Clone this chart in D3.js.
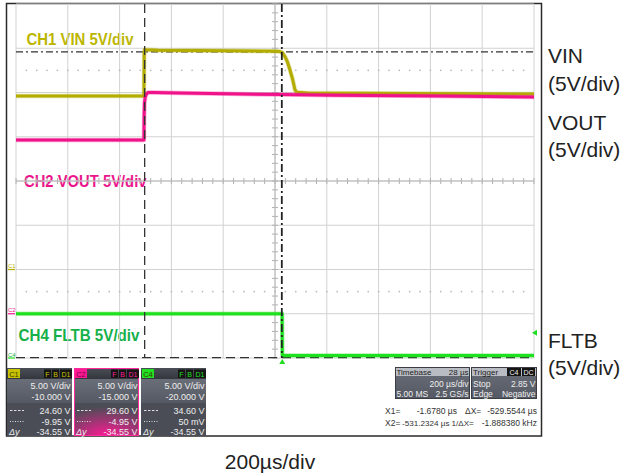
<!DOCTYPE html>
<html><head><meta charset="utf-8">
<script src="https://cdn.jsdelivr.net/npm/d3@7"></script>
<style>body{margin:0;background:#fff}svg{display:block}</style>
</head><body><svg id="c" width="624" height="475"></svg>
<script>
// ---------- data ----------
const channelNames = ["C1", "C2", "C4"];
const channelLabels = ["CH1 VIN 5V/div", "CH2 VOUT 5V/div", "CH4 FLTB 5V/div"];
const sideLabels = ["VIN", "VOUT", "FLTB"];
const sideUnits = ["(5V/div)", "(5V/div)", "(5V/div)"];
const voltsPerDiv = [5, 5, 5];
const channelOffsets = [-10, -15, -20];
const timePerDiv = 200;           // µs/div
const timeCenter = -28;           // µs at screen centre
const timeAxisLabel = "200µs/div";

const vinTime  = [-1028, -534, -533.5, -533, -531, -525, -480, -200, -20, -9, 0, 10.6, 20, 29.9, 40, 49.2, 57, 100, 500, 972];
const vinVolts = [19.60, 19.60, 22.0, 24.5, 24.85, 24.82, 24.78, 24.72, 24.66, 24.62, 24.5, 24.05, 23.45, 22.54, 21.5, 20.28, 20.02, 19.93, 19.88, 19.83];
const voutTime  = [-1028, -534, -533.5, -532, -529, -524, -518, -495, -400, -1, 200, 600, 972];
const voutVolts = [19.63, 19.63, 21.9, 23.8, 24.5, 24.85, 25.0, 25.0, 24.94, 24.77, 24.70, 24.6, 24.5];
const fltbTime  = [-1028, -0.5, 0.5, 972];
const fltbVolts = [5.0, 5.0, 0.28, 0.28];

const cursorXTimes = [-1.678, -531.2324];
const cursorYVolts = [24.60, -9.95];   // on C1
const triggerLevel = 2.85;             // on C4

const panelRows = [
  ["5.00 V/div", "-10.000 V", "24.60 V", "-9.95 V", "-34.55 V"],
  ["5.00 V/div", "-15.000 V", "29.60 V", "-4.95 V", "-34.55 V"],
  ["5.00 V/div", "-20.000 V", "34.60 V", "50 mV", "-34.55 V"]
];
const timebaseTexts = ["Timebase", "28 µs", "200 µs/div", "5.00 MS", "2.5 GS/s"];
const triggerTexts = ["Trigger", "C4", "DC", "Stop", "2.85 V", "Edge", "Negative"];
const measureRows = [
  ["X1=", "-1.6780 µs", "ΔX=", "-529.5544 µs"],
  ["X2=", "-531.2324 µs", "1/ΔX=", "-1.888380 kHz"]
];

// ---------- styles ----------
const traceColors = ["#b3ad00", "#f0128a", "#1fe01f"];
const labelColors = ["#bcb600", "#ec168c", "#16b04a"];
const boxColors = ["#c9c200", "#ff1a95", "#22e022"];
const sans = "'Liberation Sans',Arial,Helvetica,sans-serif";

const svg = d3.select("#c");
const defs = svg.append("defs");

function txt(par, x, y, str, size, fill, anchor = "start", style = null) {
  const t = par.append("text").attr("x", x).attr("y", y).attr("font-family", sans)
    .attr("font-size", size).attr("fill", fill).attr("text-anchor", anchor).text(str);
  if (style) t.attr("font-style", style);
  return t;
}

const xs = d3.scaleLinear()
  .domain([timeCenter - 5 * timePerDiv, timeCenter + 5 * timePerDiv])
  .range([16, 534]);
const yDiv = d3.scaleLinear().domain([-4, 4]).range([358, 4]);
const yCh = i => v => yDiv((v + channelOffsets[i]) / voltsPerDiv[i]);

// ---------- frame ----------
svg.append("rect").attr("x", 6.5).attr("y", 3.5).attr("width", 535).attr("height", 432.5)
  .attr("fill", "#fff").attr("stroke", "#2a2a2a").attr("stroke-width", 1.5);

// ---------- channel labels (below grid) ----------
const labelPos = [[26.5, 45, 107], [24, 186.5, 122.5], [18.5, 340.5, 121]];
channelLabels.forEach((t, i) => {
  svg.append("text").attr("x", labelPos[i][0]).attr("y", labelPos[i][1])
    .attr("font-family", sans).attr("font-weight", "bold").attr("font-size", 17)
    .attr("textLength", labelPos[i][2]).attr("lengthAdjust", "spacingAndGlyphs")
    .attr("fill", labelColors[i]).text(t);
});

// ---------- grid ----------
const g = svg.append("g");
const vLines = d3.range(0, 11).map(k => xs.domain()[0] + k * timePerDiv);
const hLines = d3.range(-4, 5);
g.selectAll(".vl").data(vLines).join("line")
  .attr("x1", d => xs(d)).attr("x2", d => xs(d)).attr("y1", yDiv(4)).attr("y2", yDiv(-4))
  .attr("stroke", "#d2d2d2").attr("stroke-width", 1);
g.selectAll(".hl").data(hLines).join("line")
  .attr("y1", d => yDiv(d)).attr("y2", d => yDiv(d)).attr("x1", xs.range()[0]).attr("x2", xs.range()[1])
  .attr("stroke", "#d2d2d2").attr("stroke-width", 1);
// dotted lines at +-2.5 div
const minorT = d3.range(0, 51).map(k => xs.domain()[0] + k * timePerDiv / 5);
[2.5, -2.5].forEach(dv => {
  g.selectAll(null).data(minorT.slice(1, -1)).join("rect")
    .attr("x", d => xs(d) - 0.75).attr("y", yDiv(dv) - 0.75).attr("width", 1.5).attr("height", 1.5)
    .attr("fill", "#b8b8b8");
});
// centre axes ticks
const cx = xs(timeCenter), cy = yDiv(0);
g.selectAll(null).data(minorT).join("line")
  .attr("x1", d => xs(d)).attr("x2", d => xs(d)).attr("y1", cy - 3).attr("y2", cy + 3)
  .attr("stroke", "#b0b0b0");
g.selectAll(null).data(d3.range(-4, 4.001, 0.2)).join("line")
  .attr("y1", d => yDiv(d)).attr("y2", d => yDiv(d)).attr("x1", cx - 3).attr("x2", cx + 3)
  .attr("stroke", "#b0b0b0");
g.append("line").attr("x1", cx).attr("x2", cx).attr("y1", 4).attr("y2", 358).attr("stroke", "#b8b8b8");
g.append("line").attr("x1", 16).attr("x2", 534).attr("y1", cy).attr("y2", cy).attr("stroke", "#b8b8b8");

// ---------- cursors ----------
svg.append("line").attr("x1", 16).attr("x2", 534)
  .attr("y1", yCh(0)(cursorYVolts[0])).attr("y2", yCh(0)(cursorYVolts[0]))
  .attr("stroke", "#333").attr("stroke-width", 1.3).attr("stroke-dasharray", "7,3,2,3");
svg.append("line").attr("x1", 16).attr("x2", 534)
  .attr("y1", yCh(0)(cursorYVolts[1])).attr("y2", yCh(0)(cursorYVolts[1]))
  .attr("stroke", "#333").attr("stroke-width", 1.3).attr("stroke-dasharray", "9,5");

// ---------- traces ----------
const series = [[vinTime, vinVolts, 0], [fltbTime, fltbVolts, 2], [voutTime, voutVolts, 1]];
series.forEach(([T, V, i]) => {
  const pts = T.map((t, k) => [t, V[k]]);
  const line = d3.line().x(d => xs(d[0])).y(d => yCh(i)(d[1]));
  svg.append("path").attr("d", line(pts)).attr("fill", "none")
    .attr("stroke", traceColors[i]).attr("stroke-width", 4.5).attr("stroke-opacity", 0.35)
    .attr("stroke-linejoin", "round");
  svg.append("path").attr("d", line(pts)).attr("fill", "none")
    .attr("stroke", traceColors[i]).attr("stroke-width", 3).attr("stroke-linejoin", "round");
});

// vertical cursors on top
svg.append("line").attr("x1", xs(cursorXTimes[0])).attr("x2", xs(cursorXTimes[0])).attr("y1", 4).attr("y2", 358)
  .attr("stroke", "#222").attr("stroke-width", 1.8).attr("stroke-dasharray", "8,3,2,3");
svg.append("line").attr("x1", xs(cursorXTimes[1])).attr("x2", xs(cursorXTimes[1])).attr("y1", 4).attr("y2", 358)
  .attr("stroke", "#333").attr("stroke-width", 1.3).attr("stroke-dasharray", "9,5");

// ---------- ground markers ----------
channelNames.forEach((n, i) => {
  const y0 = yCh(i)(0);
  svg.append("line").attr("x1", 8).attr("x2", 15).attr("y1", y0).attr("y2", y0)
    .attr("stroke", traceColors[i]).attr("stroke-width", 1.2);
  txt(svg, 8, y0 - 1.5, n, 6, labelColors[i]);
});
// trigger markers
const tx = xs(0);
svg.append("path").attr("d", `M${tx - 3},${364} L${tx + 3},${364} L${tx},${359} Z`).attr("fill", "#22dd22");
const ty = yCh(2)(triggerLevel);
svg.append("path").attr("d", `M${537},${ty - 3} L${537},${ty + 3} L${532},${ty} Z`).attr("fill", "#22dd22");

// ---------- right labels ----------
const sideY = [[63, 91], [130, 157], [348, 375]];
sideLabels.forEach((t, i) => {
  txt(svg, 548, sideY[i][0], t, 21, "#222");
  txt(svg, 548, sideY[i][1], sideUnits[i], 21, "#222");
});
txt(svg, 270, 469, timeAxisLabel, 21, "#222", "middle");

// ---------- channel panels ----------
const gradTop = defs.append("linearGradient").attr("id", "gTop").attr("x1", 0).attr("x2", 0).attr("y1", 0).attr("y2", 1);
gradTop.append("stop").attr("offset", 0).attr("stop-color", "#6a6e78");
gradTop.append("stop").attr("offset", 1).attr("stop-color", "#555963");
const gradHead = defs.append("linearGradient").attr("id", "gHead").attr("x1", 0).attr("x2", 0).attr("y1", 0).attr("y2", 1);
gradHead.append("stop").attr("offset", 0).attr("stop-color", "#4a4e56");
gradHead.append("stop").attr("offset", 1).attr("stop-color", "#33363c");
const pinkGlow = defs.append("radialGradient").attr("id", "pinkGlow").attr("cx", 0.5).attr("cy", 1).attr("r", 0.9);
pinkGlow.append("stop").attr("offset", 0).attr("stop-color", "#ff1a95").attr("stop-opacity", 1);
pinkGlow.append("stop").attr("offset", 1).attr("stop-color", "#ff1a95").attr("stop-opacity", 0);

const panelX = [7, 74, 141];
const light = "#eeeeee", dark = "#222";
panelRows.forEach((rows, i) => {
  const x0 = panelX[i], w = 65, p = svg.append("g");
  p.append("rect").attr("x", x0).attr("y", 368).attr("width", w).attr("height", 68).attr("fill", "#4a4d55");
  p.append("rect").attr("x", x0).attr("y", 368).attr("width", w).attr("height", 11).attr("fill", "url(#gHead)");
  p.append("rect").attr("x", x0).attr("y", 379).attr("width", w).attr("height", 24).attr("fill", "url(#gTop)");
  if (i === 1) {
    p.append("rect").attr("x", x0).attr("y", 403).attr("width", w).attr("height", 33).attr("fill", "url(#pinkGlow)");
    p.append("rect").attr("x", x0 + 0.5).attr("y", 368.5).attr("width", w - 1).attr("height", 67)
      .attr("fill", "none").attr("stroke", "#ff2a9a").attr("stroke-width", 1);
  }
  // header boxes
  p.append("rect").attr("x", x0 + 1).attr("y", 369).attr("width", 12).attr("height", 9).attr("fill", boxColors[i]);
  txt(p, x0 + 7, 376.5, channelNames[i], 7.5, i === 1 ? "#7a0040" : "#3a3a00", "middle");
  [["F", 37, 7], ["B", 45, 7], ["D1", 53, 12]].forEach(([t, dx, bw]) => {
    p.append("rect").attr("x", x0 + dx).attr("y", 369.5).attr("width", bw).attr("height", 8.5).attr("fill", "#151515");
    txt(p, x0 + dx + bw / 2, 376.5, t, 7, boxColors[i], "middle");
  });
  const ys = [389, 399.5, 413.5, 424.5, 435];
  rows.forEach((t, k) => txt(p, x0 + w - 1.5, ys[k], t, 9, light, "end"));
  p.append("line").attr("x1", x0 + 3).attr("x2", x0 + 17).attr("y1", 410.5).attr("y2", 410.5)
    .attr("stroke", "#ddd").attr("stroke-dasharray", "2.5,1.5");
  p.append("line").attr("x1", x0 + 3).attr("x2", x0 + 17).attr("y1", 421.5).attr("y2", 421.5)
    .attr("stroke", "#ddd").attr("stroke-dasharray", "1,1.5");
  txt(p, x0 + 2, 435, "Δy", 9, light, "start", "italic");
});

// ---------- timebase / trigger panels ----------
const tb = svg.append("g");
function infoPanel(x0, w) {
  tb.append("rect").attr("x", x0).attr("y", 367).attr("width", w).attr("height", 32).attr("fill", "url(#gTop)");
  tb.append("rect").attr("x", x0).attr("y", 367).attr("width", w).attr("height", 9).attr("fill", "#b9bcc3");
  tb.append("rect").attr("x", x0 + 0.5).attr("y", 367.5).attr("width", w - 1).attr("height", 31)
    .attr("fill", "none").attr("stroke", "#3a3d44");
}
infoPanel(395, 75);
infoPanel(471, 66);
txt(tb, 396.5, 375, timebaseTexts[0], 8, dark);
txt(tb, 468.5, 375, timebaseTexts[1], 8, dark, "end");
txt(tb, 468.5, 386.5, timebaseTexts[2], 8.5, light, "end");
txt(tb, 396.5, 396.5, timebaseTexts[3], 8.5, light);
txt(tb, 468.5, 396.5, timebaseTexts[4], 8.5, light, "end");
txt(tb, 473, 375, triggerTexts[0], 8, dark);
[[triggerTexts[1], 507, 14], [triggerTexts[2], 522, 13]].forEach(([t, x, w]) => {
  tb.append("rect").attr("x", x).attr("y", 368).attr("width", w).attr("height", 8).attr("fill", "#151515");
  txt(tb, x + w / 2, 375, t, 7, light, "middle");
});
txt(tb, 473, 386.5, triggerTexts[3], 8.5, light);
txt(tb, 535.5, 386.5, triggerTexts[4], 8.5, light, "end");
txt(tb, 473, 396.5, triggerTexts[5], 8.5, light);
txt(tb, 535.5, 396.5, triggerTexts[6], 8.5, light, "end");

// measurement rows
measureRows.forEach((r, k) => {
  const y = 413.5 + k * 12.5;
  txt(tb, 385, y, r[0], 8.5, "#333");
  txt(tb, k === 0 ? 457 : 449.5, y, r[1], k === 0 ? 8.5 : 8.1, "#333", "end");
  txt(tb, k === 0 ? 465 : 451.5, y, r[2], k === 0 ? 8.5 : 8.1, "#333");
  txt(tb, 537, y, r[3], 8.5, "#333", "end");
});
</script></body></html>
